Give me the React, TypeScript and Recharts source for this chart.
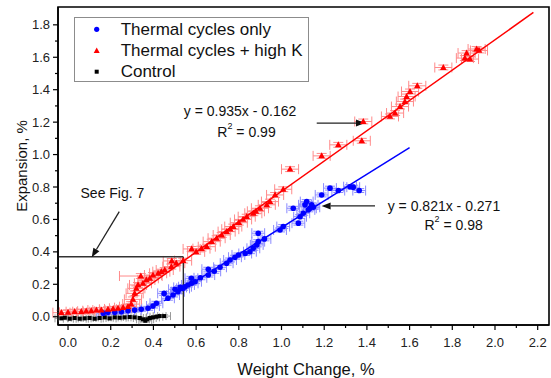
import React from 'react';
import {
  ScatterChart,
  Scatter,
  XAxis,
  YAxis,
  ErrorBar,
  ReferenceLine,
  ReferenceArea,
  ReferenceDot,
  Legend,
} from 'recharts';

// [weight change %, expansion %, optional x error]
const highK: number[][] = [
  [-0.031, 0.025], [0.0, 0.027], [0.031, 0.031], [0.062, 0.031], [0.085, 0.034],
  [0.109, 0.037], [0.133, 0.041], [0.156, 0.041], [0.187, 0.046], [0.211, 0.048],
  [0.234, 0.052], [0.258, 0.056], [0.281, 0.062], [0.296, 0.078], [0.304, 0.107],
  [0.312, 0.144], [0.32, 0.175], [0.328, 0.196], [0.341, 0.251, 0.1], [0.351, 0.206],
  [0.367, 0.227], [0.383, 0.237], [0.398, 0.257], [0.422, 0.268], [0.437, 0.278],
  [0.453, 0.288], [0.484, 0.309], [0.486, 0.344], [0.507, 0.33], [0.539, 0.346],
  [0.579, 0.418], [0.6, 0.4], [0.625, 0.42], [0.65, 0.432], [0.673, 0.463],
  [0.696, 0.484], [0.72, 0.504], [0.743, 0.525], [0.76, 0.54], [0.774, 0.556],
  [0.8, 0.58], [0.82, 0.6], [0.837, 0.617], [0.868, 0.638], [0.88, 0.65],
  [0.899, 0.669], [0.931, 0.69], [0.946, 0.71], [0.97, 0.751], [1.008, 0.786],
  [1.04, 0.91], [1.188, 0.992], [1.266, 1.06], [1.376, 1.085], [1.383, 1.204],
  [1.508, 1.235], [1.532, 1.256], [1.555, 1.296], [1.578, 1.327], [1.586, 1.358],
  [1.602, 1.389], [1.636, 1.424], [1.758, 1.537], [1.859, 1.595], [1.883, 1.589],
  [1.867, 1.626], [1.914, 1.651], [1.925, 1.642],
];

const thermalOnly: number[][] = [
  [0.165, 0.022], [0.187, 0.027], [0.219, 0.027], [0.25, 0.031], [0.281, 0.037],
  [0.312, 0.041], [0.343, 0.046], [0.375, 0.052], [0.398, 0.066], [0.414, 0.083],
  [0.45, 0.144], [0.468, 0.114], [0.492, 0.134], [0.501, 0.169], [0.515, 0.154],
  [0.525, 0.181], [0.539, 0.175], [0.548, 0.185], [0.562, 0.196], [0.578, 0.237],
  [0.579, 0.206], [0.595, 0.216], [0.62, 0.24], [0.657, 0.257], [0.657, 0.293],
  [0.685, 0.28], [0.712, 0.305], [0.743, 0.33], [0.759, 0.35], [0.782, 0.367],
  [0.798, 0.381], [0.83, 0.39], [0.852, 0.401], [0.868, 0.422], [0.884, 0.443],
  [0.891, 0.463], [0.891, 0.515], [0.92, 0.48], [0.993, 0.535], [1.008, 0.556],
  [1.055, 0.669], [1.079, 0.577], [1.087, 0.617], [1.102, 0.638], [1.11, 0.69],
  [1.118, 0.71], [1.126, 0.659], [1.133, 0.669], [1.141, 0.69], [1.149, 0.675],
  [1.188, 0.751], [1.227, 0.793], [1.266, 0.778], [1.321, 0.802], [1.336, 0.799],
  [1.364, 0.778],
];

const control: number[][] = [
  [-0.031, -0.01], [-0.015, -0.006], [0.008, -0.012], [0.031, -0.008], [0.055, -0.012],
  [0.078, -0.01], [0.101, -0.008], [0.125, -0.012], [0.148, -0.008], [0.172, -0.004],
  [0.195, -0.01], [0.219, -0.004], [0.242, -0.006], [0.265, -0.004], [0.289, -0.002],
  [0.312, -0.004], [0.336, -0.008], [0.351, -0.016], [0.362, -0.025], [0.371, -0.016],
  [0.383, -0.008], [0.398, -0.004], [0.414, 0.0], [0.429, 0.004], [0.45, 0.004],
];

const xTicks = [0, 0.1, 0.2, 0.3, 0.4, 0.5, 0.6, 0.7, 0.8, 0.9, 1.0, 1.1, 1.2, 1.3, 1.4, 1.5, 1.6, 1.7, 1.8, 1.9, 2.0, 2.1, 2.2];
const yTicks = [0, 0.1, 0.2, 0.3, 0.4, 0.5, 0.6, 0.7, 0.8, 0.9, 1.0, 1.1, 1.2, 1.3, 1.4, 1.5, 1.6, 1.7, 1.8];

// linear fits reported in the figure
const fitHighK = { m: 0.935, b: -0.162, from: 0.3, to: 2.18 };
const fitThermal = { m: 0.821, b: -0.271, from: 0.45, to: 1.6 };

const X_DOMAIN: [number, number] = [-0.047, 2.253];
const Y_DOMAIN: [number, number] = [-0.051, 1.91];
const FONT = '"Liberation Sans", Arial, sans-serif';

const toPoints = (rows: number[][], ex: number, ey: number) =>
  rows.map(([x, y, e]) => ({ x, y, ex: e ?? ex, ey }));

const fitSeg = (f: { m: number; b: number; from: number; to: number }) => [
  { x: f.from, y: f.m * f.from + f.b },
  { x: f.to, y: f.m * f.to + f.b },
];

const isMajor = (v: number) => Math.round(v * 10) % 2 === 0;

const XTick = ({ x, y, payload }: any) => {
  const v = payload.value;
  const major = isMajor(v);
  return (
    <g>
      <line x1={x} y1={y} x2={x} y2={y + (major ? 5 : 3)} stroke="#000" strokeWidth={1.2} />
      {major && (
        <text x={x} y={y + 17} textAnchor="middle" dominantBaseline="central" fontSize={13} fontFamily={FONT} fill="#222">
          {v.toFixed(1)}
        </text>
      )}
    </g>
  );
};

const YTick = ({ x, y, payload }: any) => {
  const v = payload.value;
  const major = isMajor(v);
  return (
    <g>
      <line x1={x - (major ? 5 : 3)} y1={y} x2={x} y2={y} stroke="#000" strokeWidth={1.2} />
      {major && (
        <text x={x - 8} y={y} textAnchor="end" dominantBaseline="central" fontSize={13} fontFamily={FONT} fill="#222">
          {v.toFixed(1)}
        </text>
      )}
    </g>
  );
};

const YTitle = () => {
  const cx = 21;
  const cy = 166;
  return (
    <text x={cx} y={cy} transform={`rotate(-90 ${cx} ${cy})`} textAnchor="middle" dominantBaseline="central" fontSize={15} fontFamily={FONT} fill="#111">
      Expansion, %
    </text>
  );
};

const XTitle = () => (
  <text x={306} y={369} textAnchor="middle" dominantBaseline="central" fontSize={16.5} fontFamily={FONT} fill="#111">
    Weight Change, %
  </text>
);

const Triangle = ({ cx, cy }: any) => (
  <polygon points={`${cx},${cy - 3.6} ${cx - 3.3},${cy + 2.4} ${cx + 3.3},${cy + 2.4}`} fill="#ff0000" />
);
const Dot = ({ cx, cy }: any) => <circle cx={cx} cy={cy} r={2.8} fill="#0000ff" />;
const Square = ({ cx, cy }: any) => <rect x={cx - 2} y={cy - 2} width={4} height={4} fill="#000" />;

const Arrow = ({ x1, y1, x2, y2 }: any) => {
  const a = Math.atan2(y2 - y1, x2 - x1);
  const len = 9;
  const half = 3.5;
  const bx = x2 - len * Math.cos(a);
  const by = y2 - len * Math.sin(a);
  const nx = -Math.sin(a) * half;
  const ny = Math.cos(a) * half;
  return (
    <g>
      <line x1={x1} y1={y1} x2={bx} y2={by} stroke="#222" strokeWidth={1.3} />
      <polygon points={`${x2},${y2} ${bx + nx},${by + ny} ${bx - nx},${by - ny}`} fill="#111" />
    </g>
  );
};

const Note = (text: string, sup?: string, rest?: string) => ({ cx, cy }: any) => (
  <text x={cx} y={cy} textAnchor="middle" dominantBaseline="central" fontSize={14} fontFamily={FONT} fill="#111">
    {text}
    {sup && (
      <tspan fontSize={9} dy={-6}>
        {sup}
      </tspan>
    )}
    {rest && <tspan dy={sup ? 6 : 0}>{rest}</tspan>}
  </text>
);

const LegendBox = () => (
  <svg width={235} height={65} style={{ display: 'block' }}>
    <rect x={0.5} y={0.5} width={234} height={64} fill="#fff" stroke="#8c8c8c" strokeWidth={1} />
    <circle cx={22.7} cy={12.3} r={2.6} fill="#0000ff" />
    <polygon points="22.7,30.4 19.7,36 25.7,36" fill="#ff0000" />
    <rect x={20.7} y={52.7} width={4} height={4} fill="#000" />
    {['Thermal cycles only', 'Thermal cycles + high K', 'Control'].map((t, i) => (
      <text key={t} x={46.7} y={[12.3, 33.7, 54.7][i]} dominantBaseline="central" fontSize={17} fontFamily={FONT} fill="#111">
        {t}
      </text>
    ))}
  </svg>
);

export default function App() {
  return (
    <div style={{ position: 'absolute', left: 0, top: 0, background: '#fff' }}>
      <ScatterChart width={551} height={378} margin={{ top: 7, right: 2, bottom: 0, left: 0 }}>
        <XAxis
          type="number"
          dataKey="x"
          domain={X_DOMAIN}
          allowDataOverflow
          ticks={xTicks}
          interval={0}
          tick={<XTick />}
          tickLine={false}
          tickSize={0}
          tickMargin={0}
          axisLine={{ stroke: '#000', strokeWidth: 1.5 }}
          height={53}
          label={<XTitle />}
        />
        <YAxis
          type="number"
          dataKey="y"
          domain={Y_DOMAIN}
          allowDataOverflow
          ticks={yTicks}
          interval={0}
          tick={<YTick />}
          tickLine={false}
          tickSize={0}
          tickMargin={0}
          axisLine={{ stroke: '#000', strokeWidth: 1.5 }}
          width={58}
          label={<YTitle />}
        />
        <ReferenceArea
          x1={X_DOMAIN[0]}
          x2={X_DOMAIN[1]}
          y1={Y_DOMAIN[0]}
          y2={Y_DOMAIN[1]}
          fill="none"
          fillOpacity={0}
          stroke="#000"
          strokeWidth={1.6}
          ifOverflow="visible"
        />
        <Legend
          layout="vertical"
          align="center"
          verticalAlign="middle"
          wrapperStyle={{ left: 74, top: 17, width: 235, height: 65 }}
          content={() => <LegendBox />}
        />
        <Scatter name="Control" data={toPoints(control, 0.03, 0.008)} shape={<Square />} isAnimationActive={false}>
          <ErrorBar dataKey="ex" direction="x" width={4} stroke="#9a9a9a" strokeWidth={1} isAnimationActive={false} />
          <ErrorBar dataKey="ey" direction="y" width={4} stroke="#9a9a9a" strokeWidth={1} isAnimationActive={false} />
        </Scatter>
        <Scatter name="Thermal cycles only" data={toPoints(thermalOnly, 0.03, 0.012)} shape={<Dot />} isAnimationActive={false}>
          <ErrorBar dataKey="ex" direction="x" width={5} stroke="#8a8aff" strokeWidth={1} isAnimationActive={false} />
          <ErrorBar dataKey="ey" direction="y" width={5} stroke="#8a8aff" strokeWidth={1} isAnimationActive={false} />
        </Scatter>
        <Scatter name="Thermal cycles + high K" data={toPoints(highK, 0.04, 0.015)} shape={<Triangle />} isAnimationActive={false}>
          <ErrorBar dataKey="ex" direction="x" width={5} stroke="#ff8a8a" strokeWidth={1} isAnimationActive={false} />
          <ErrorBar dataKey="ey" direction="y" width={5} stroke="#ff8a8a" strokeWidth={1} isAnimationActive={false} />
        </Scatter>
        <ReferenceLine segment={fitSeg(fitHighK)} stroke="#ff0000" strokeWidth={1.5} ifOverflow="visible" />
        <ReferenceLine segment={fitSeg(fitThermal)} stroke="#0000ff" strokeWidth={1.5} ifOverflow="visible" />
        {/* "See Fig. 7" zoom box */}
        <ReferenceLine segment={[{ x: X_DOMAIN[0], y: 0.37 }, { x: 0.54, y: 0.37 }]} stroke="#333" strokeWidth={1.3} ifOverflow="visible" />
        <ReferenceLine segment={[{ x: 0.54, y: 0.37 }, { x: 0.54, y: Y_DOMAIN[0] }]} stroke="#222" strokeWidth={1.3} ifOverflow="visible" />
        <ReferenceLine segment={[{ x: 0.24, y: 0.648 }, { x: 0.111, y: 0.367 }]} shape={Arrow} ifOverflow="visible" />
        <ReferenceLine segment={[{ x: 1.165, y: 1.194 }, { x: 1.391, y: 1.194 }]} shape={Arrow} ifOverflow="visible" />
        <ReferenceLine segment={[{ x: 1.438, y: 0.683 }, { x: 1.188, y: 0.683 }]} shape={Arrow} ifOverflow="visible" />
        <ReferenceDot x={0.208} y={0.762} r={0} shape={Note('See Fig. 7')} />
        <ReferenceDot x={0.806} y={1.266} r={0} shape={Note('y = 0.935x - 0.162')} />
        <ReferenceDot x={0.836} y={1.142} r={0} shape={Note('R', '2', ' = 0.99')} />
        <ReferenceDot x={1.761} y={0.683} r={0} shape={Note('y = 0.821x - 0.271')} />
        <ReferenceDot x={1.806} y={0.566} r={0} shape={Note('R', '2', ' = 0.98')} />
      </ScatterChart>
    </div>
  );
}
